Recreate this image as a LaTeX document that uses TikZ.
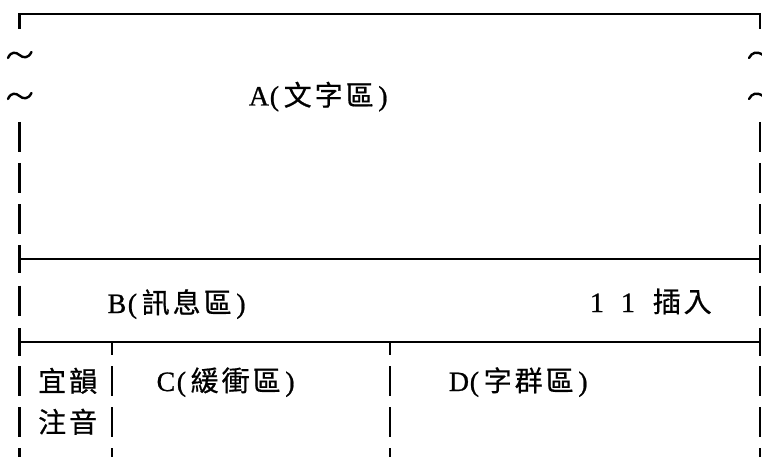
\documentclass[tikz,border=0pt]{standalone}
\usepackage{fontspec}
\setmainfont{Liberation Serif}[FakeBold=0.8]
\newfontfamily\cjk{Noto Sans CJK TC}[FakeBold=0.6]
\newcommand{\hc}[1]{\makebox[15.5pt]{#1}}
\newcommand{\fc}[1]{\makebox[31pt]{\cjk #1}}
\begin{document}
\begin{tikzpicture}[x=1pt,y=-1pt,
  txt/.style={inner sep=0pt,anchor=base west,font=\fontsize{28pt}{30pt}\selectfont},
  hline/.style={line width=1.8pt},
  vbar/.style={line width=2.4pt},
  wave/.style={line width=2.4pt,line cap=round}]
\useasboundingbox (0,0) rectangle (762,457);
% top border with corners
\draw[hline] (19.5,14) -- (760,14);
\draw[vbar] (19.5,13.1) -- (19.5,29);
\draw[vbar] (760,13.1) -- (760,29);
% tildes on the left, arcs on the right
\foreach \yy in {55,96}{
  \draw[wave] (8,\yy+3) .. controls (11,\yy-4) and (16,\yy-3) .. (19.5,\yy)
     .. controls (23,\yy+3) and (28,\yy+4) .. (31.5,\yy-3);
  \draw[wave] (749,\yy+3) .. controls (752,\yy-3) and (757,\yy-4) .. (763,\yy);
}
% vertical bars of the outer border
\foreach \r in {137,178,219,300.5,381,422,463}{
  \draw[vbar] (19.5,\r-15) -- (19.5,\r+15);
  \draw[vbar] (760,\r-15) -- (760,\r+15);
}
% tee rows
\foreach \r in {259,342}{
  \draw[hline] (19.5,\r) -- (760,\r);
  \draw[vbar] (19.5,\r-14) -- (19.5,\r+14);
  \draw[vbar] (760,\r-14) -- (760,\r+14);
}
% column separators
\foreach \xx in {112,390}{
  \draw[vbar] (\xx,342) -- (\xx,355);
  \foreach \r in {381,422,463}{
    \draw[vbar] (\xx,\r-15) -- (\xx,\r+15);
  }
}
% texts
\node[txt] (A) at (251,105.5) {\hc{A}\hc{(}\fc{文}\fc{字}\fc{區}\hc{)}};
\node[txt] (B) at (109,313) {\hc{B}\hc{(}\fc{訊}\fc{息}\fc{區}\hc{)}};
\node[txt] (st) at (589,312) {\hc{1}\hc{~}\hc{1}\hc{~}\fc{插}\fc{入}};
\node[txt] (yy) at (36.5,391.5) {\fc{宜}\fc{韻}};
\node[txt] (zy) at (36.5,432.5) {\fc{注}\fc{音}};
\node[txt] (C) at (158,391) {\hc{C}\hc{(}\fc{緩}\fc{衝}\fc{區}\hc{)}};
\node[txt] (D) at (451,391) {\hc{D}\hc{(}\fc{字}\fc{群}\fc{區}\hc{)}};
\end{tikzpicture}
\end{document}
